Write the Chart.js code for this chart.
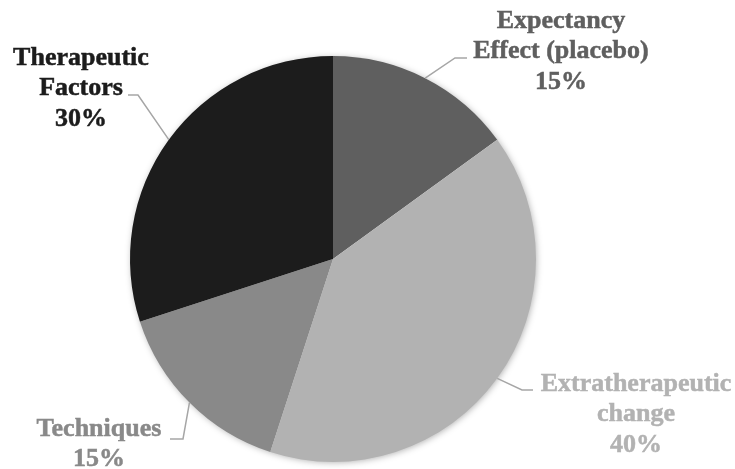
<!DOCTYPE html>
<html>
<head>
<meta charset="utf-8">
<script src="https://cdn.jsdelivr.net/npm/chart.js@4/dist/chart.umd.min.js"></script>
<style>
  html, body { margin: 0; padding: 0; background: #fff; }
  #wrap { width: 735px; height: 469px; position: relative; }
  #fontwarm { position: absolute; left: -9999px; top: 0; font: bold 26px 'Liberation Serif'; }
</style>
</head>
<body>
<div id="wrap"><canvas id="pie" width="735" height="469"></canvas></div>
<span id="fontwarm">Extratherapeutic change 40%</span>
<script>
// chart data
const categories = ["Expectancy Effect (placebo)", "Extratherapeutic change", "Techniques", "Therapeutic Factors"];
const labelLines = [["Expectancy", "Effect (placebo)"], ["Extratherapeutic", "change"], ["Techniques"], ["Therapeutic", "Factors"]];
const shares = [15, 40, 15, 30];
const sliceColors = ["#5f5f5f", "#b2b2b2", "#898989", "#1c1c1c"];

// label placement, px relative to the pie centre
const labelLayout = [
    { elbow: [122, -201], end: [134, -201], text: [228, -238] },
    { elbow: [189, 131], end: [200, 131], text: [303, 125] },
    { elbow: [-150, 180], end: [-163, 180], text: [-234, 170] },
    { elbow: [-195, -164], end: [-205, -164], text: [-252, -201] }
];

const labelFont = "bold 26px 'Liberation Serif'";

// soft shadow under the pie
const pieShadow = {
    id: "pieShadow",
    beforeDatasetsDraw(chart) {
        const arc = chart.getDatasetMeta(0).data[0];
        if (!arc) return;
        const { x, y, outerRadius } = arc.getProps(["x", "y", "outerRadius"], true);
        const ctx = chart.ctx;
        ctx.save();
        ctx.shadowColor = "rgba(0,0,0,0.35)";
        ctx.shadowBlur = 7;
        ctx.shadowOffsetX = 1;
        ctx.shadowOffsetY = 1;
        ctx.fillStyle = "#fff";
        ctx.beginPath();
        ctx.arc(x, y, outerRadius - 1, 0, Math.PI * 2);
        ctx.fill();
        ctx.restore();
    }
};

// leader lines + labels
const sliceLabels = {
    id: "sliceLabels",
    afterDatasetsDraw(chart) {
        const ctx = chart.ctx;
        chart.getDatasetMeta(0).data.forEach(function(arc, i) {
            const p = arc.getProps(["x", "y", "startAngle", "endAngle", "outerRadius"], true);
            const mid = (p.startAngle + p.endAngle) / 2;
            const ax = p.x + Math.cos(mid) * p.outerRadius;
            const ay = p.y + Math.sin(mid) * p.outerRadius;
            const lay = labelLayout[i];

            ctx.save();
            ctx.strokeStyle = "#a6a6a6";
            ctx.lineWidth = 1.5;
            ctx.beginPath();
            ctx.moveTo(ax, ay);
            ctx.lineTo(p.x + lay.elbow[0], p.y + lay.elbow[1]);
            ctx.lineTo(p.x + lay.end[0], p.y + lay.end[1]);
            ctx.stroke();

            ctx.fillStyle = sliceColors[i];
            ctx.strokeStyle = sliceColors[i];
            ctx.lineWidth = 0.5;
            ctx.font = labelFont;
            ctx.textAlign = "center";
            ctx.textBaseline = "middle";
            const lines = labelLines[i].concat([shares[i] + "%"]);
            lines.forEach(function(t, k) {
                const tx = p.x + lay.text[0];
                const ty = p.y + lay.text[1] + k * 30.5;
                ctx.fillText(t, tx, ty);
                ctx.strokeText(t, tx, ty);
            });
            ctx.restore();
        });
    }
};

function drawChart() {
    const ctx = document.getElementById("pie").getContext("2d");
    new Chart(ctx, {
        type: "pie",
        data: {
            labels: categories,
            datasets: [{
                data: shares,
                backgroundColor: sliceColors,
                borderWidth: 0
            }]
        },
        options: {
            responsive: false,
            animation: false,
            layout: { padding: { top: 56, bottom: 7, left: 0, right: 69 } },
            plugins: {
                legend: { display: false },
                tooltip: { enabled: false }
            }
        },
        plugins: [pieShadow, sliceLabels]
    });
}

// make sure the serif face is loaded before the canvas uses it
document.fonts.load(labelFont).then(drawChart, drawChart);
</script>
</body>
</html>
